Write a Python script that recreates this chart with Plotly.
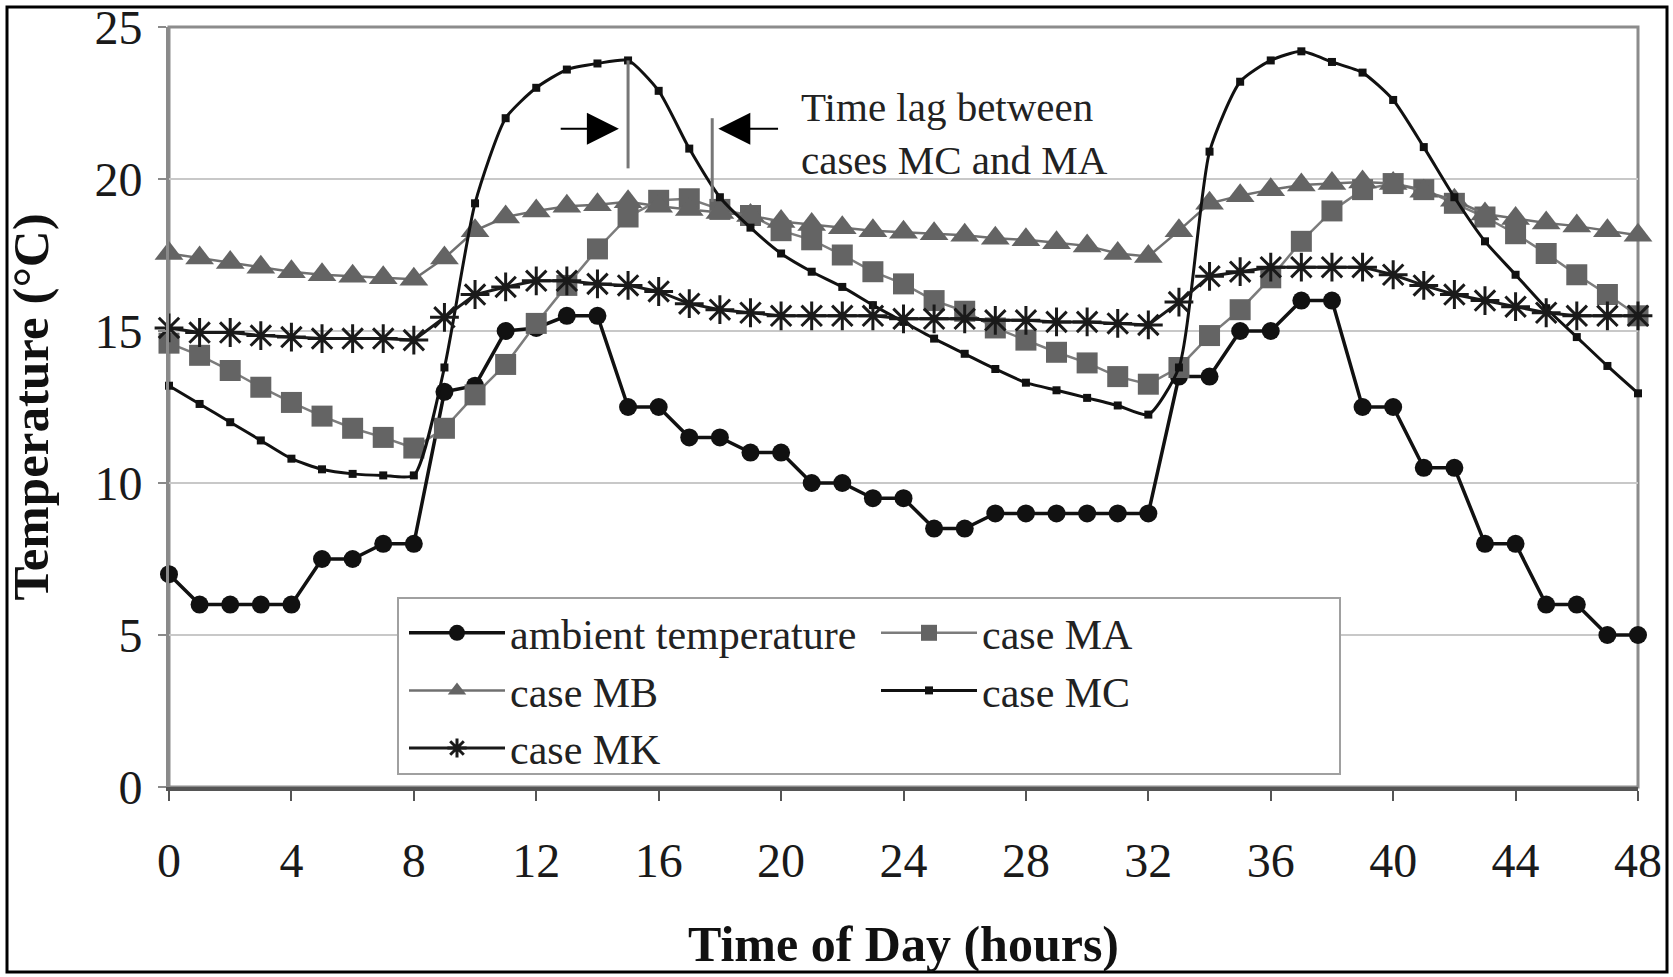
import plotly.graph_objects as go

# ---------------- data ----------------
hours = list(range(0, 49))

ambient = [7, 6, 6, 6, 6, 7.5, 7.5, 8, 8, 13, 13.2, 15, 15.1, 15.5, 15.5, 12.5, 12.5,
           11.5, 11.5, 11, 11, 10, 10, 9.5, 9.5, 8.5, 8.5, 9, 9, 9, 9, 9, 9,
           13.5, 13.5, 15, 15, 16, 16, 12.5, 12.5, 10.5, 10.5, 8, 8, 6, 6, 5, 5]

case_MA = [14.6, 14.2, 13.7, 13.15, 12.65, 12.2, 11.8, 11.5, 11.15, 11.8, 12.9, 13.9,
           15.25, 16.5, 17.7, 18.75, 19.3, 19.35, 19.0, 18.8, 18.3, 18.0, 17.5, 16.95,
           16.55, 16.0, 15.65, 15.1, 14.7, 14.3, 13.95, 13.5, 13.25, 13.8, 14.85, 15.7,
           16.75, 17.95, 18.95, 19.65, 19.85, 19.65, 19.2, 18.75, 18.2, 17.55, 16.85,
           16.2, 15.5]

case_MB = [17.55, 17.4, 17.25, 17.1, 16.95, 16.85, 16.8, 16.75, 16.7, 17.4, 18.3, 18.75,
           18.95, 19.1, 19.15, 19.25, 19.1, 19.0, 18.9, 18.8, 18.6, 18.5, 18.4, 18.3,
           18.25, 18.2, 18.15, 18.05, 18.0, 17.9, 17.8, 17.55, 17.45, 18.3, 19.2, 19.45,
           19.65, 19.8, 19.85, 19.9, 19.85, 19.6, 19.3, 18.85, 18.7, 18.55, 18.45,
           18.3, 18.15]

case_MC = [13.2, 12.6, 12.0, 11.4, 10.8, 10.45, 10.3, 10.25, 10.25, 13.8, 19.2, 22.0,
           23.0, 23.6, 23.8, 23.9, 22.9, 21.0, 19.4, 18.4, 17.55, 16.95, 16.45, 15.85,
           15.3, 14.75, 14.25, 13.75, 13.3, 13.05, 12.8, 12.55, 12.25, 13.8, 20.9, 23.2,
           23.9, 24.2, 23.85, 23.5, 22.6, 21.05, 19.4, 17.95, 16.85, 15.75, 14.8,
           13.85, 12.95]

case_MK = [15.1, 14.95, 14.95, 14.85, 14.8, 14.75, 14.75, 14.75, 14.7, 15.45, 16.2, 16.45,
           16.65, 16.65, 16.55, 16.5, 16.3, 15.9, 15.7, 15.6, 15.5, 15.5, 15.5, 15.5,
           15.4, 15.4, 15.4, 15.35, 15.35, 15.3, 15.3, 15.25, 15.2, 15.95, 16.8, 16.95,
           17.1, 17.1, 17.1, 17.1, 16.85, 16.5, 16.2, 16.0, 15.8, 15.6, 15.5, 15.5, 15.5]

x_ticks = list(range(0, 49, 4))
y_ticks = list(range(0, 26, 5))

# ---------------- layout geometry ----------------
W, H = 1673, 977
L, R, T, B = 169, 35, 27, 190
PW, PH = W - L - R, H - T - B

def px_x(p):
    return (p - L) / PW

def px_y(p):
    return (H - B - p) / PH

FONT = "Liberation Serif"
GRAY = "#646464"

fig = go.Figure()

fig.add_trace(go.Scatter(
    x=hours, y=ambient, name="ambient temperature", mode="lines+markers",
    line=dict(color="#111111", width=3.5),
    marker=dict(symbol="circle", size=18, color="#111111"),
    cliponaxis=False, legend="legend"))

fig.add_trace(go.Scatter(
    x=hours, y=case_MA, name="case MA", mode="lines+markers",
    line=dict(color="#7c7c7c", width=2.5),
    marker=dict(symbol="square", size=21, color=GRAY),
    cliponaxis=False, legend="legend2"))

fig.add_trace(go.Scatter(
    x=hours, y=case_MB, name="case MB", mode="lines+markers",
    line=dict(color="#707070", width=2.5),
    marker=dict(symbol="triangle-up", size=25, color=GRAY),
    cliponaxis=False, legend="legend"))

fig.add_trace(go.Scatter(
    x=hours, y=case_MC, name="case MC", mode="lines+markers",
    line=dict(color="#111111", width=3, shape="spline", smoothing=0.6),
    marker=dict(symbol="square", size=8, color="#111111"),
    cliponaxis=False, legend="legend2"))

fig.add_trace(go.Scatter(
    x=hours, y=case_MK, name="case MK", mode="lines+markers",
    line=dict(color="#1a1a1a", width=3),
    marker=dict(symbol="asterisk", size=24, color="#1a1a1a",
                line=dict(color="#1a1a1a", width=3)),
    cliponaxis=False, legend="legend"))

# ---------------- annotation: time lag ----------------
lag_start, lag_end = 15, 17.75
arrow_y = 21.65
shapes = [
    # plot area frame (gray)
    dict(type="rect", xref="paper", yref="paper", x0=0, x1=1, y0=0, y1=1,
         line=dict(color="#8c8c8c", width=3), layer="below"),
    # outer black frame
    dict(type="rect", xref="paper", yref="paper",
         x0=px_x(7), x1=px_x(1667), y0=px_y(972), y1=px_y(7),
         line=dict(color="#000000", width=3)),
    # legend box
    dict(type="rect", xref="paper", yref="paper",
         x0=px_x(398), x1=px_x(1340), y0=px_y(774), y1=px_y(598),
         line=dict(color="#a0a0a0", width=2), fillcolor="white", layer="above"),
    # vertical markers for the lag
    dict(type="line", xref="x", yref="y", x0=lag_start, x1=lag_start, y0=20.35, y1=23.9,
         line=dict(color="#777777", width=3)),
    dict(type="line", xref="x", yref="y", x0=lag_end, x1=lag_end, y0=19.25, y1=22.0,
         line=dict(color="#777777", width=3)),
]

annotations = [
    dict(x=14.7, y=arrow_y, ax=12.75, ay=arrow_y, xref="x", yref="y", axref="x", ayref="y",
         text="", showarrow=True, arrowhead=2, arrowsize=3.2, arrowwidth=2,
         arrowcolor="#000000"),
    dict(x=17.95, y=arrow_y, ax=19.95, ay=arrow_y, xref="x", yref="y", axref="x", ayref="y",
         text="", showarrow=True, arrowhead=2, arrowsize=3.2, arrowwidth=2,
         arrowcolor="#000000"),
    dict(x=20.6, y=21.5, xref="x", yref="y", xanchor="left", yanchor="middle", align="left",
         text="Time lag between<br>cases MC and MA", showarrow=False,
         font=dict(family=FONT, size=41, color="#222222")),
]

legend_font = dict(family=FONT, size=42, color="#222222")

fig.update_layout(
    width=W, height=H,
    margin=dict(l=L, r=R, t=T, b=B, autoexpand=False),
    paper_bgcolor="white", plot_bgcolor="white",
    font=dict(family=FONT, color="#222222"),
    shapes=shapes, annotations=annotations,
    legend=dict(x=px_x(404), y=px_y(599), xanchor="left", yanchor="top",
                bgcolor="rgba(0,0,0,0)", borderwidth=0, itemwidth=96,
                font=legend_font, tracegroupgap=0, traceorder="normal"),
    legend2=dict(x=px_x(876), y=px_y(599), xanchor="left", yanchor="top",
                 bgcolor="rgba(0,0,0,0)", borderwidth=0, itemwidth=96,
                 font=legend_font, tracegroupgap=0, traceorder="normal"),
    xaxis=dict(range=[0, 48], tickvals=x_ticks, ticktext=[str(v) for v in x_ticks],
               showgrid=False, zeroline=False, showline=True, linecolor="#555555",
               linewidth=4, ticks="outside", ticklen=10, tickwidth=2, tickcolor="#555555",
               ticklabelstandoff=18, ticklabeloverflow="allow",
               tickfont=dict(family=FONT, size=48, color="#1a1a1a"),
               title=dict(text="<b>Time of Day (hours)</b>", standoff=41,
                          font=dict(family=FONT, size=50, color="#111111"))),
    yaxis=dict(range=[0, 25], tickvals=y_ticks, ticktext=[str(v) for v in y_ticks],
               showgrid=True, gridcolor="#c8c8c8", gridwidth=2, zeroline=False,
               showline=True, linecolor="#8a8a8a", linewidth=3, ticks="outside",
               ticklen=8, tickwidth=2, tickcolor="#8a8a8a", ticklabelstandoff=6,
               ticklabeloverflow="allow",
               tickfont=dict(family=FONT, size=48, color="#1a1a1a"),
               title=dict(text="<b>Temperature (°C)</b>", standoff=30,
                          font=dict(family=FONT, size=51, color="#111111"))),
)

fig.write_html("out.html")
